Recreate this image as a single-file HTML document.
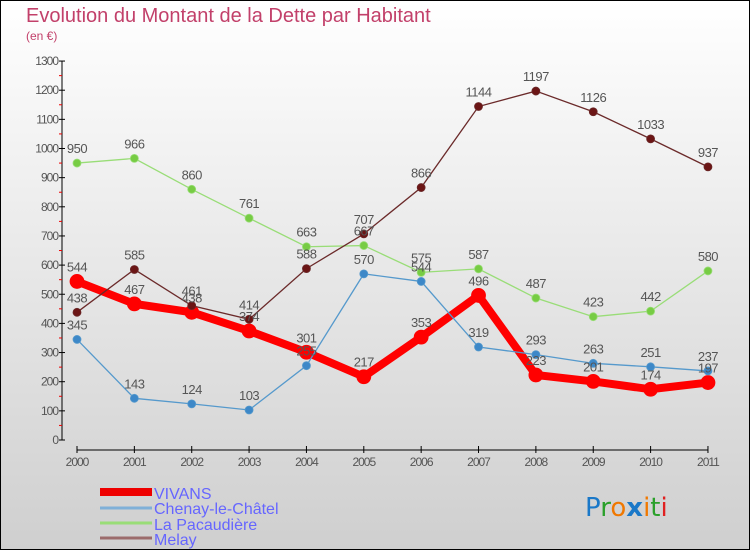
<!DOCTYPE html>
<html><head><meta charset="utf-8"><style>
body{margin:0}
#c{width:750px;height:550px;position:relative;overflow:hidden;box-sizing:border-box;border:1px solid #000;background:linear-gradient(#fff,#cfcfcf);font-family:"DejaVu Sans","Liberation Sans",sans-serif}
</style></head><body>
<div id="c">
<svg id="s" width="750" height="550" style="position:absolute;left:-1px;top:-1px">
<text x="26" y="22" font-size="20" fill="#c2406a" font-family="Liberation Sans, sans-serif">Evolution du Montant de la Dette par Habitant</text>
<text x="26" y="40" font-size="12" fill="#c2406a" font-family="Liberation Sans, sans-serif">(en €)</text>
<g id="axes"></g><g id="marks"></g><g id="labels"></g>
<g font-family="Liberation Sans, sans-serif">
<rect x="100" y="488" width="52" height="8" fill="#e00"/>
<text x="154" y="499" font-size="16" fill="#66f">VIVANS</text>
<line x1="100" y1="508" x2="152" y2="508" stroke="#7fb0d8" stroke-width="3"/>
<text x="154" y="514" font-size="16" fill="#66f">Chenay-le-Châtel</text>
<line x1="100" y1="523" x2="152" y2="523" stroke="#99dd77" stroke-width="3"/>
<text x="154" y="530" font-size="16" fill="#66f">La Pacaudière</text>
<line x1="100" y1="538" x2="152" y2="538" stroke="#9b6b6b" stroke-width="3"/>
<text x="154" y="545" font-size="16" fill="#66f">Melay</text>
</g>
<text x="585" y="516" font-size="26" font-family="DejaVu Sans, sans-serif"><tspan fill="#1a78c8">P</tspan><tspan fill="#2aa02a">r</tspan><tspan fill="#f07800">o</tspan><tspan fill="#1a78c8" font-weight="bold">x</tspan><tspan fill="#f07800">i</tspan><tspan fill="#2aa02a">t</tspan><tspan fill="#e02020">i</tspan></text>
</svg>
</div>
<script>
const years=[2000,2001,2002,2003,2004,2005,2006,2007,2008,2009,2010,2011];
const vivans=[544,467,438,374,301,217,353,496,223,201,174,197];
const chenay=[345,143,124,103,255,570,544,319,293,263,251,237];
const pacaudiere=[950,966,860,761,663,667,575,587,487,423,442,580];
const melay=[438,585,461,414,588,707,866,1144,1197,1126,1033,937];
const yTicks=[0,100,200,300,400,500,600,700,800,900,1000,1100,1200,1300];
const NS="http://www.w3.org/2000/svg";
const X=i=>77+i*57.36, Y=v=>440-v*0.2915;
function mk(t,a,p){const e=document.createElementNS(NS,t);for(const k in a)e.setAttribute(k,a[k]);p.appendChild(e);return e;}
const ax=document.getElementById('axes'),mg=document.getElementById('marks'),lg=document.getElementById('labels');
let l=mk('line',{x1:62,y1:Y(1300),x2:62,y2:Y(0),stroke:'#000'},ax);


yTicks.forEach(v=>{
 mk('line',{x1:59,y1:Y(v),x2:65,y2:Y(v),stroke:'#000'},ax);
 if(v<1300)mk('line',{x1:59,y1:Y(v+50),x2:62,y2:Y(v+50),stroke:'#e00'},ax);
 const t=mk('text',{x:58,y:Y(v)+4,'font-size':12,fill:'#555','text-anchor':'end','letter-spacing':'-1','font-family':'Liberation Sans, sans-serif'},ax);t.textContent=v;
 
 
});
l=mk('line',{x1:X(0),y1:450,x2:X(11),y2:450,stroke:'#000'},ax);


years.forEach((y,i)=>{
 mk('line',{x1:X(i),y1:446,x2:X(i),y2:453,stroke:'#000'},ax);
 const t=mk('text',{x:X(i),y:466,'font-size':12,fill:'#555','text-anchor':'middle','letter-spacing':'-1','font-family':'Liberation Sans, sans-serif'},ax);t.textContent=y;
 
 
});
function series(d,name,col,dot,w,r){
 const p=mk('polyline',{points:d.map((v,i)=>X(i)+','+Y(v)).join(' '),fill:'none',stroke:col,'stroke-width':w},mg);
 
 
 d.forEach((v,i)=>{
  const c=mk('circle',{cx:X(i),cy:Y(v),r:r,fill:dot,stroke:col,'stroke-width':0.8},mg);
  
  
  const t=mk('text',{x:X(i),y:Y(v)-10,'font-size':13,fill:'#555','text-anchor':'middle','letter-spacing':'-0.5','font-family':'Liberation Sans, sans-serif'},lg);t.textContent=v;
  
  
 });
}
series(vivans,'vivans','#f00','#f00',8,7);
series(chenay,'chenay','#5599cc','#3d88c8',1.3,4);
series(pacaudiere,'pacaudiere','#99dd77','#77cc44',1.3,4);
series(melay,'melay','#6b2a2a','#6b1515',1.3,4);
</script>
</body></html>
